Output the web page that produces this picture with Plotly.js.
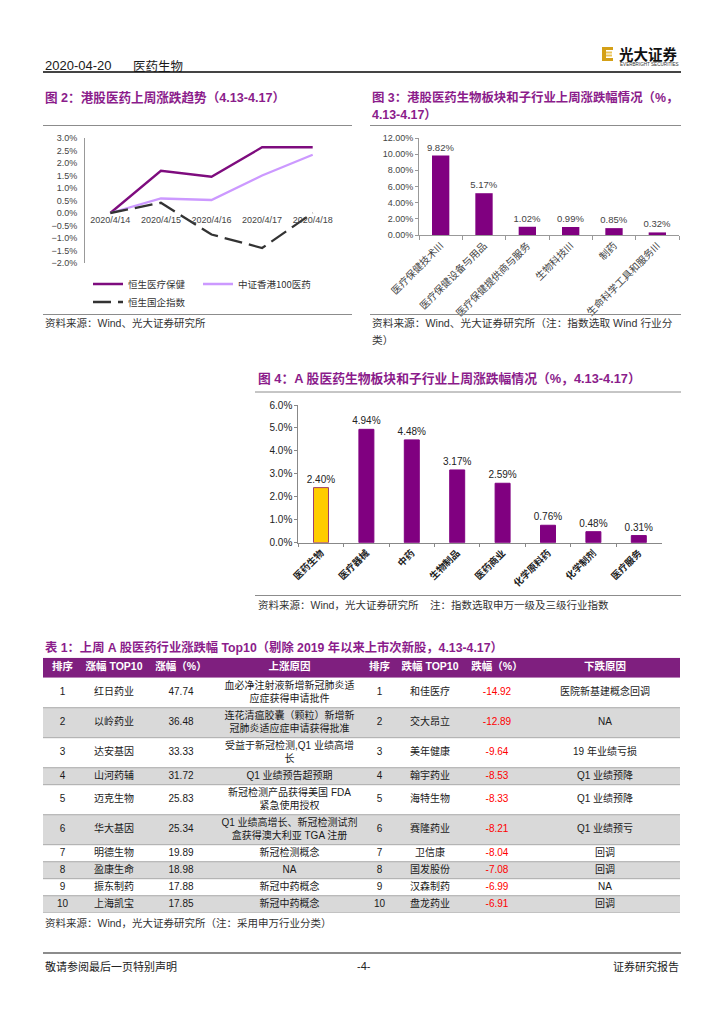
<!DOCTYPE html>
<html><head><meta charset="utf-8">
<script src="https://cdn.plot.ly/plotly-3.0.1.min.js"></script>
<style>html,body{margin:0;padding:0;background:#fff;} #chart{width:724px;height:1024px;}</style>
</head><body><div id="chart"></div>
<script>
// ---------------- DATA ----------------
const trendDates = ['2020/4/14', '2020/4/15', '2020/4/16', '2020/4/17', '2020/4/18'];
const hsHealthcare = [0, 1.69, 1.45, 2.63, 2.63];
const csiHK100Pharma = [0, 0.58, 0.52, 1.50, 2.33];
const hsChinaEnterprises = [0, 0.41, -0.86, -1.40, 0.0];
const trendNames = ['恒生医疗保健', '中证香港100医药', '恒生国企指数'];

const hkCategories = ['医疗保健技术III', '医疗保健设备与用品', '医疗保健提供商与服务', '生物科技III', '制药', '生命科学工具和服务III'];
const hkValues = [9.82, 5.17, 1.02, 0.99, 0.85, 0.32];

const aCategories = ['医药生物', '医疗器械', '中药', '生物制品', '医药商业', '化学原料药', '化学制剂', '医疗服务'];
const aValues = [2.40, 4.94, 4.48, 3.17, 2.59, 0.76, 0.48, 0.31];

const tableHeader = ['排序', '涨幅 TOP10', '涨幅（%）', '上涨原因', '排序', '跌幅 TOP10', '跌幅（%）', '下跌原因'];
const riseRank = ['1', '2', '3', '4', '5', '6', '7', '8', '9', '10'];
const riseNames = ['红日药业', '以岭药业', '达安基因', '山河药辅', '迈克生物', '华大基因', '明德生物', '盈康生命', '振东制药', '上海凯宝'];
const riseChange = [47.74, 36.48, 33.33, 31.72, 25.83, 25.34, 19.89, 18.98, 17.88, 17.85];
const riseReasons = [
  '血必净注射液新增新冠肺炎适<br>应症获得申请批件',
  '连花清瘟胶囊（颗粒）新增新<br>冠肺炎适应症申请获得批准',
  '受益于新冠检测,Q1 业绩高增<br>长',
  'Q1 业绩预告超预期',
  '新冠检测产品获得美国 FDA<br>紧急使用授权',
  'Q1 业绩高增长、新冠检测试剂<br>盒获得澳大利亚 TGA 注册',
  '新冠检测概念',
  'NA',
  '新冠中药概念',
  '新冠中药概念'
];
const fallRank = ['1', '2', '3', '4', '5', '6', '7', '8', '9', '10'];
const fallNames = ['和佳医疗', '交大昂立', '美年健康', '翰宇药业', '海特生物', '赛隆药业', '卫信康', '国发股份', '汉森制药', '盘龙药业'];
const fallChange = [-14.92, -12.89, -9.64, -8.53, -8.33, -8.21, -8.04, -7.08, -6.99, -6.91];
const fallReasons = ['医院新基建概念回调', 'NA', '19 年业绩亏损', 'Q1 业绩预降', 'Q1 业绩预降', 'Q1 业绩预亏', '回调', '回调', 'NA', '回调'];

// ---------------- LAYOUT HELPERS ----------------
const W = 724, H = 1024;
const X = px => px / W;
const Y = py => 1 - py / H;
const FONT = 'Liberation Sans, Arial, "Noto Sans CJK SC", sans-serif';
const CJK = '"Noto Sans CJK SC", Liberation Sans, sans-serif';
const PURPLE = '#800080';
const TITLE_PURPLE = '#8B1C8B';

const traces = [];

// Figure 2 - lines
traces.push({
  type: 'scatter', mode: 'lines', x: trendDates, y: hsHealthcare, name: trendNames[0],
  xaxis: 'x', yaxis: 'y', line: {color: '#7E0C7E', width: 2.3}, legend: 'legend', hoverinfo: 'skip'
});
traces.push({
  type: 'scatter', mode: 'lines', x: trendDates, y: csiHK100Pharma, name: trendNames[1],
  xaxis: 'x', yaxis: 'y', line: {color: '#CC99FF', width: 2.3}, legend: 'legend3', hoverinfo: 'skip'
});
traces.push({
  type: 'scatter', mode: 'lines', x: trendDates, y: hsChinaEnterprises, name: trendNames[2],
  xaxis: 'x', yaxis: 'y', line: {color: '#333333', width: 2.3, dash: '18px,7px'}, legend: 'legend2', hoverinfo: 'skip'
});

// Figure 3 - HK bars
traces.push({
  type: 'bar', x: hkCategories, y: hkValues, xaxis: 'x2', yaxis: 'y2', width: 0.4,
  marker: {color: PURPLE}, texttemplate: '%{y:.2f}%', textposition: 'outside',
  textfont: {size: 9.5, color: '#444', family: FONT}, cliponaxis: false, constraintext: 'none',
  showlegend: false, hoverinfo: 'skip'
});

// Figure 4 - A-share bars
traces.push({
  type: 'bar', x: aCategories, y: aValues, xaxis: 'x3', yaxis: 'y3', width: 0.33,
  marker: {
    color: aCategories.map((c, i) => i === 0 ? '#FFCC00' : PURPLE),
    line: {color: aCategories.map((c, i) => i === 0 ? '#A0406A' : PURPLE), width: 1}
  },
  texttemplate: '%{y:.2f}%', textposition: 'outside',
  textfont: {size: 10, color: '#222', family: FONT}, cliponaxis: false, constraintext: 'none',
  showlegend: false, hoverinfo: 'skip'
});

// Table 1 - built on its own axes (units = px)
const colWidths = [39, 64, 70, 147, 33, 68, 66, 150];
const headerHeight = 20, oneLineHeight = 17, twoLineHeight = 30;
const colCenters = [];
let acc = 0;
colWidths.forEach(w => { colCenters.push(acc + w / 2); acc += w; });
const tableWidth = acc;
const rowHeights = riseReasons.map((r, i) => (r.includes('<br>') || fallReasons[i].includes('<br>')) ? twoLineHeight : oneLineHeight);
const rowCenters = [];
const rowBounds = [headerHeight];
let yAcc = headerHeight;
rowHeights.forEach(h => { rowCenters.push(yAcc + h / 2); yAcc += h; rowBounds.push(yAcc); });
const tableHeight = yAcc;

traces.push({
  type: 'bar', orientation: 'h', xaxis: 'x4', yaxis: 'y4',
  y: [headerHeight / 2].concat(rowCenters),
  x: [tableWidth].concat(rowCenters.map(() => tableWidth)),
  base: 0, width: [headerHeight].concat(rowHeights),
  marker: {color: ['#7F1F7F'].concat(rowCenters.map((c, i) => i % 2 === 0 ? '#FFFFFF' : '#D9D9D9')), line: {width: 0}},
  showlegend: false, hoverinfo: 'skip'
});
const sepX = [], sepY = [];
rowBounds.slice(1).forEach(b => { sepX.push(0, tableWidth, null); sepY.push(b, b, null); });
traces.push({
  type: 'scatter', mode: 'lines', xaxis: 'x4', yaxis: 'y4', x: sepX, y: sepY,
  line: {color: '#8C8C8C', width: 0.7}, showlegend: false, hoverinfo: 'skip', cliponaxis: false
});
traces.push({
  type: 'scatter', mode: 'text', xaxis: 'x4', yaxis: 'y4',
  x: colCenters, y: colCenters.map(() => headerHeight / 2), text: tableHeader,
  textfont: {color: '#FFFFFF', size: 10.5, family: FONT, weight: 'bold'}, textposition: 'middle center',
  showlegend: false, hoverinfo: 'skip', cliponaxis: false
});
const cellX = [], cellY = [], cellText = [], cellColor = [];
const columns = [riseRank, riseNames, riseChange.map(v => v.toFixed(2)), riseReasons,
                 fallRank, fallNames, fallChange.map(v => v.toFixed(2)), fallReasons];
columns.forEach((col, c) => {
  col.forEach((val, r) => {
    cellX.push(colCenters[c]); cellY.push(rowCenters[r]); cellText.push(val);
    cellColor.push(c === 6 ? '#FF0000' : '#1A1A1A');
  });
});
traces.push({
  type: 'scatter', mode: 'text', xaxis: 'x4', yaxis: 'y4', x: cellX, y: cellY, text: cellText,
  textfont: {color: cellColor, size: 10, family: FONT}, textposition: 'middle center',
  showlegend: false, hoverinfo: 'skip', cliponaxis: false
});

// ---------------- ANNOTATIONS ----------------
function ann(text, px, py, size, opts) {
  opts = opts || {};
  return Object.assign({
    text: text, x: X(px), y: Y(py), xref: 'paper', yref: 'paper', showarrow: false,
    xanchor: opts.xanchor || 'left', yanchor: 'middle',
    font: {size: size, color: opts.color || '#1A1A1A', family: opts.family || FONT, weight: opts.weight || 'normal'}
  }, opts.extra || {});
}
const titleOpts = {color: TITLE_PURPLE, weight: 'bold'};
const srcOpts = {color: '#333'};
const annotations = [
  ann('2020-04-20', 43, 65, 13),
  ann('医药生物', 131, 65, 12.5, {family: CJK}),
  ann('<b>光大证券</b>', 617, 53, 14.5, {family: CJK, color: '#111'}),
  ann('EVERBRIGHT SECURITIES', 618, 64.5, 4.6, {color: '#333'}),
  ann('图 2：港股医药上周涨跌趋势（4.13-4.17）', 43, 97, 12.6, titleOpts),
  ann('图 3：港股医药生物板块和子行业上周涨跌幅情况（%，', 370, 97, 12.4, titleOpts),
  ann('4.13-4.17）', 370, 115, 12.4, titleOpts),
  ann('资料来源：Wind、光大证券研究所', 43, 323, 10.5, srcOpts),
  ann('资料来源：Wind、光大证券研究所（注：指数选取 Wind 行业分', 370, 323, 10.7, srcOpts),
  ann('类）', 370, 340, 10.7, srcOpts),
  ann('图 4：A 股医药生物板块和子行业上周涨跌幅情况（%，4.13-4.17）', 256, 378, 12.8, titleOpts),
  ann('资料来源：Wind，光大证券研究所    注：指数选取申万一级及三级行业指数', 256, 605, 10.5, srcOpts),
  ann('表 1：上周 A 股医药行业涨跌幅 Top10（剔除 2019 年以来上市次新股，4.13-4.17）', 43, 647, 12.3, titleOpts),
  ann('资料来源：Wind，光大证券研究所（注：采用申万行业分类）', 43, 923, 10.5, srcOpts),
  ann('敬请参阅最后一页特别声明', 43, 966, 11, {color: '#222'}),
  ann('-4-', 364, 966, 11, {color: '#222', xanchor: 'center'}),
  ann('证券研究报告', 681, 966, 11, {color: '#222', xanchor: 'right'})
];

// ---------------- SHAPES ----------------
function hline(x0, x1, py, color, width) {
  return {type: 'line', xref: 'paper', yref: 'paper', x0: X(x0), x1: X(x1), y0: Y(py), y1: Y(py), line: {color: color, width: width}};
}
function rect(x0, y0, x1, y1, color) {
  return {type: 'rect', xref: 'paper', yref: 'paper', x0: X(x0), x1: X(x1), y0: Y(y0), y1: Y(y1), fillcolor: color, line: {width: 0}};
}
const shapes = [
  hline(43, 681, 72, '#444', 2),
  // logo icon
  rect(602, 47, 606, 61, '#D4A017'),
  rect(602, 47, 613, 50, '#D4A017'),
  rect(606, 51.5, 612, 53.5, '#EBC45A'),
  rect(606, 54.5, 612, 56.5, '#EBC45A'),
  rect(602, 58, 613, 61, '#D4A017'),
  hline(43, 352, 125.5, '#8C8C8C', 1),
  hline(43, 352, 314.5, '#8C8C8C', 1),
  hline(370, 681, 125.5, '#8C8C8C', 1),
  hline(370, 681, 314.5, '#8C8C8C', 1),
  hline(255, 681, 392, '#8C8C8C', 1),
  hline(255, 681, 595.5, '#8C8C8C', 1),
  hline(43, 681, 953, '#8C8C8C', 2)
];

// ---------------- LAYOUT ----------------
const tickFontLight = {size: 9, color: '#444', family: FONT};
const legendBase = {
  xanchor: 'left', yanchor: 'middle', orientation: 'h',
  font: {size: 9.5, color: '#333', family: CJK}, bgcolor: 'rgba(0,0,0,0)', borderwidth: 0, itemwidth: 30
};
const layout = {
  width: W, height: H, margin: {l: 0, r: 0, t: 0, b: 0},
  paper_bgcolor: '#FFFFFF', plot_bgcolor: 'rgba(0,0,0,0)',
  font: {family: FONT, color: '#222'},
  barmode: 'overlay', showlegend: true,
  xaxis: {
    domain: [X(85), X(338)], anchor: 'free', position: Y(212.6), type: 'category', range: [-0.5, 4.5],
    showline: false, showgrid: false, zeroline: false, ticks: '', tickangle: 0,
    tickfont: tickFontLight, fixedrange: true
  },
  yaxis: {
    domain: [Y(263), Y(138)], anchor: 'x', range: [-2, 3], dtick: 0.5, tickformat: '.1f', ticksuffix: '%',
    showline: true, linecolor: '#999', linewidth: 1, showgrid: false, zeroline: false,
    ticks: '', ticklabelstandoff: 5, tickfont: tickFontLight
  },
  xaxis2: {
    domain: [X(419), X(679)], anchor: 'y2', type: 'category', showline: true, linecolor: '#999', linewidth: 1,
    ticks: 'outside', ticklen: 4, tickcolor: '#999', tickson: 'boundaries', tickangle: -45,
    tickfont: {size: 10, color: '#444', family: CJK}, showgrid: false, zeroline: false
  },
  yaxis2: {
    domain: [Y(235), Y(138)], anchor: 'x2', range: [0, 12], dtick: 2, tickformat: '.2f', ticksuffix: '%',
    showline: true, linecolor: '#999', linewidth: 1, ticks: 'outside', ticklen: 3, tickcolor: '#999',
    showgrid: false, zeroline: false, tickfont: tickFontLight
  },
  xaxis3: {
    domain: [X(298.3), X(661.5)], anchor: 'y3', type: 'category', showline: true, linecolor: '#888', linewidth: 1,
    ticks: 'outside', ticklen: 3, tickcolor: '#888', tickson: 'boundaries', tickangle: -45,
    tickfont: {size: 9.5, color: '#222', family: CJK, weight: 'bold'}, showgrid: false, zeroline: false
  },
  yaxis3: {
    domain: [Y(542.7), Y(405)], anchor: 'x3', range: [0, 6], dtick: 1, tickformat: '.1f', ticksuffix: '%',
    showline: true, linecolor: '#888', linewidth: 1, ticks: 'outside', ticklen: 3, tickcolor: '#888',
    showgrid: false, zeroline: false, tickfont: {size: 10, color: '#222', family: FONT}
  },
  xaxis4: {domain: [X(43), X(680)], anchor: 'y4', range: [0, tableWidth], visible: false, fixedrange: true},
  yaxis4: {domain: [Y(657.7 + tableHeight), Y(657.7)], anchor: 'x4', range: [tableHeight, 0], visible: false, fixedrange: true},
  legend: Object.assign({x: X(88), y: Y(284)}, legendBase),
  legend3: Object.assign({x: X(198), y: Y(284)}, legendBase),
  legend2: Object.assign({x: X(88), y: Y(302)}, legendBase),
  annotations: annotations,
  shapes: shapes
};

Plotly.newPlot('chart', traces, layout, {staticPlot: true, displayModeBar: false});
</script>
</body></html>
